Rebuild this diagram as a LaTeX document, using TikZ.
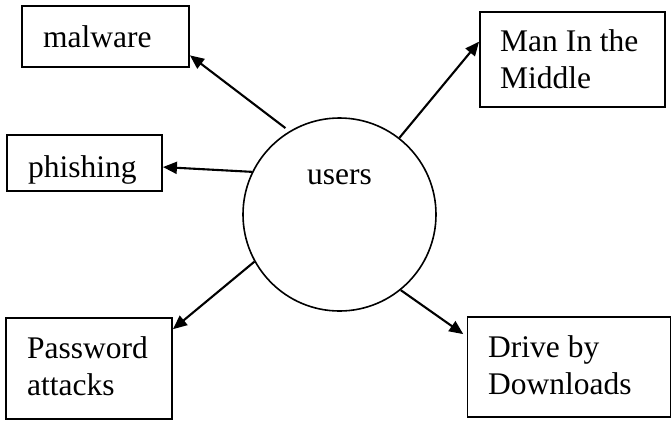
\documentclass[tikz,border=0pt]{standalone}
\usepackage{fontspec}
\setmainfont{Liberation Serif}
\usetikzlibrary{arrows.meta,calc}

\tikzset{
  threat/.style={draw, line width=1.9pt, rectangle, inner sep=0pt},
  hub/.style={draw, line width=1.6pt, circle, inner sep=0pt, minimum size=193pt},
  lbl/.style={inner sep=0pt, anchor=base west, align=left,
    font=\fontsize{31.5}{37}\selectfont},
  link/.style={line width=2.1pt, -{Triangle[length=14pt,width=12pt]}}
}

\begin{document}
\begin{tikzpicture}[x=1pt, y=-1pt]
  \useasboundingbox (0,0) rectangle (672,421);

  % central circle and its label
  \node[hub] (u) at (339.5,214.5) {};
  \node[lbl, anchor=base] (ut) at (339.5,184) {users};

  % threat boxes
  \node[threat, minimum width=167pt, minimum height=61pt]  (mal)  at (105.5,36.5) {};
  \node[threat, minimum width=155pt, minimum height=56pt]  (phi)  at (84.5,163)   {};
  \node[threat, minimum width=185pt, minimum height=95pt]  (mitm) at (572.5,59.5) {};
  \node[threat, minimum width=166pt, minimum height=101pt] (pwd)  at (89,368.5)   {};
  \node[threat, minimum width=203pt, minimum height=100pt] (dbd)  at (569,367)    {};

  % box texts (base anchor sits on the last line of a two-line text)
  \node[lbl] (malt)  at (43,47)   {malware};
  \node[lbl] (phit)  at (28,177)  {phishing};
  \node[lbl] (mitmt) at (500,88)  {Man In the\\Middle};
  \node[lbl] (pwdt)  at (27,395)  {Password\\attacks};
  \node[lbl] (dbdt)  at (488,394) {Drive by\\Downloads};

  % connectors from the circle to each box
  \draw[link, shorten <=5pt] (u.121.7) -- ($(mal.south east)!0.2!(mal.north east)$);
  \draw[link] (u.154.6) -- ($(phi.south east)!0.43!(phi.north east)$);
  \draw[link] (u.52.1)  -- ($(mitm.north west)!0.316!(mitm.south west)$);
  \draw[link] (u.209.9) -- ($(pwd.north east)!0.118!(pwd.south east)$);
  \draw[link, shorten >=4pt] (u.309.5) -- ($(dbd.north west)!0.2!(dbd.south west)$);
\end{tikzpicture}
\end{document}
